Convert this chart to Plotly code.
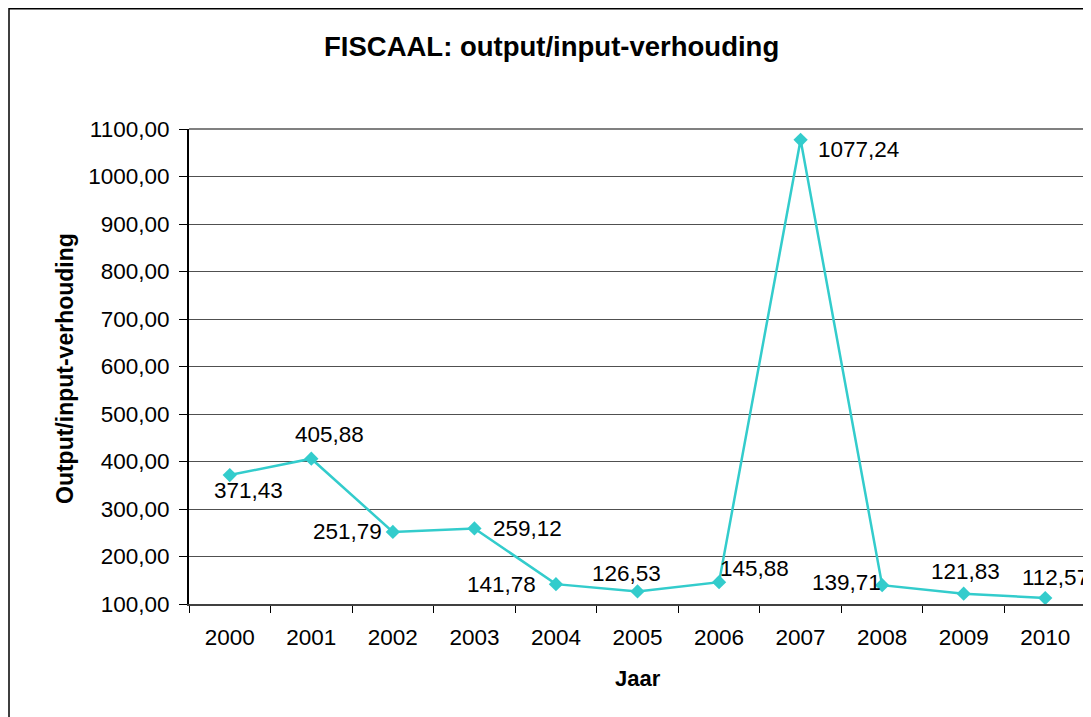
import plotly.graph_objects as go

jaren = ['2000', '2001', '2002', '2003', '2004', '2005', '2006', '2007', '2008', '2009', '2010']
verhouding = [371.43, 405.88, 251.79, 259.12, 141.78, 126.53, 145.88, 1077.24, 139.71, 121.83, 112.57]
y_ticks = [100, 200, 300, 400, 500, 600, 700, 800, 900, 1000, 1100]
y_ticktext = ['100,00', '200,00', '300,00', '400,00', '500,00', '600,00', '700,00',
              '800,00', '900,00', '1000,00', '1100,00']

# label offsets (px) so the labels sit like in the original
lbl_dx = [19, 18, -45, 53, -54, -11, 35, 58, -36, 2, 10]
lbl_dy = [-15, 24, 0, 0, 0, 18, 14, -10, 3, 22, 21]

FONT = 'Liberation Sans, Arial, sans-serif'
TURQ = '#33CCCC'

# page has an 8px body margin, plot area in page pixels: x 189..1086, y 129..604
PX0, PY0, PW, PH = 189, 604, 897, 475


def px(x):
    return (x - PX0) / PW


def py(y):
    return (PY0 - y) / PH


fig = go.Figure()
fig.add_trace(go.Scatter(
    x=jaren, y=verhouding, mode='lines+markers',
    line=dict(color=TURQ, width=2.5),
    marker=dict(symbol='diamond', size=11, color=TURQ),
    hoverinfo='skip', showlegend=False))

annots = []
for i, (v, dx, dy) in enumerate(zip(verhouding, lbl_dx, lbl_dy)):
    # category axis: annotation x given as the category index
    annots.append(dict(x=i, y=v, xref='x', yref='y', text=f'{v:.2f}'.replace('.', ','),
                       showarrow=False, xanchor='center', yanchor='middle',
                       xshift=dx, yshift=dy, font=dict(size=22.5, color='black', family=FONT)))

annots.append(dict(text='<b>FISCAAL: output/input-verhouding</b>', xref='paper', yref='paper',
                   x=px(551), y=py(46), showarrow=False,
                   xanchor='center', yanchor='middle', font=dict(size=27.5, color='black', family=FONT)))
annots.append(dict(text='<b>Jaar</b>', xref='paper', yref='paper',
                   x=px(638), y=py(678), showarrow=False,
                   xanchor='center', yanchor='middle', font=dict(size=22, color='black', family=FONT)))
annots.append(dict(text='<b>Output/input-verhouding</b>', xref='paper', yref='paper',
                   x=px(65), y=py(368), showarrow=False, textangle=-90,
                   xanchor='center', yanchor='middle', font=dict(size=23, color='black', family=FONT)))

shapes = [
    # outer chart frame (runs off the picture at right and bottom)
    dict(type='rect', xref='paper', yref='paper', x0=px(9), x1=1.2,
         y0=-0.5, y1=py(8.8), line=dict(color='black', width=1.5)),
    # grey plot-area frame (top/right)
    dict(type='line', xref='paper', yref='paper', x0=0, x1=1, y0=1, y1=1,
         line=dict(color='#808080', width=2)),
    dict(type='line', xref='paper', yref='paper', x0=1, x1=1, y0=0, y1=1,
         line=dict(color='#808080', width=2)),
]

fig.update_layout(
    width=1083, height=709,
    margin=dict(l=181, r=5, t=121, b=113),
    paper_bgcolor='white', plot_bgcolor='white',
    font=dict(family=FONT, size=22, color='black'),
    annotations=annots, shapes=shapes,
    xaxis=dict(type='category', tickson='boundaries', ticks='outside', ticklen=7,
               tickcolor='black', showline=True, linecolor='#404040', linewidth=2,
               showgrid=False, tickfont=dict(size=22.5), zeroline=False, ticklabelstandoff=12,
               range=[-0.5, len(jaren) - 0.5]),
    yaxis=dict(range=[100, 1100], tickvals=y_ticks, ticktext=y_ticktext,
               ticks='outside', ticklen=8, tickcolor='black', ticklabelstandoff=5,
               showline=True, linecolor='black', linewidth=2,
               showgrid=True, gridcolor='#505050', gridwidth=1, zeroline=False,
               tickfont=dict(size=22.5)),
)

fig.write_html("out.html")
